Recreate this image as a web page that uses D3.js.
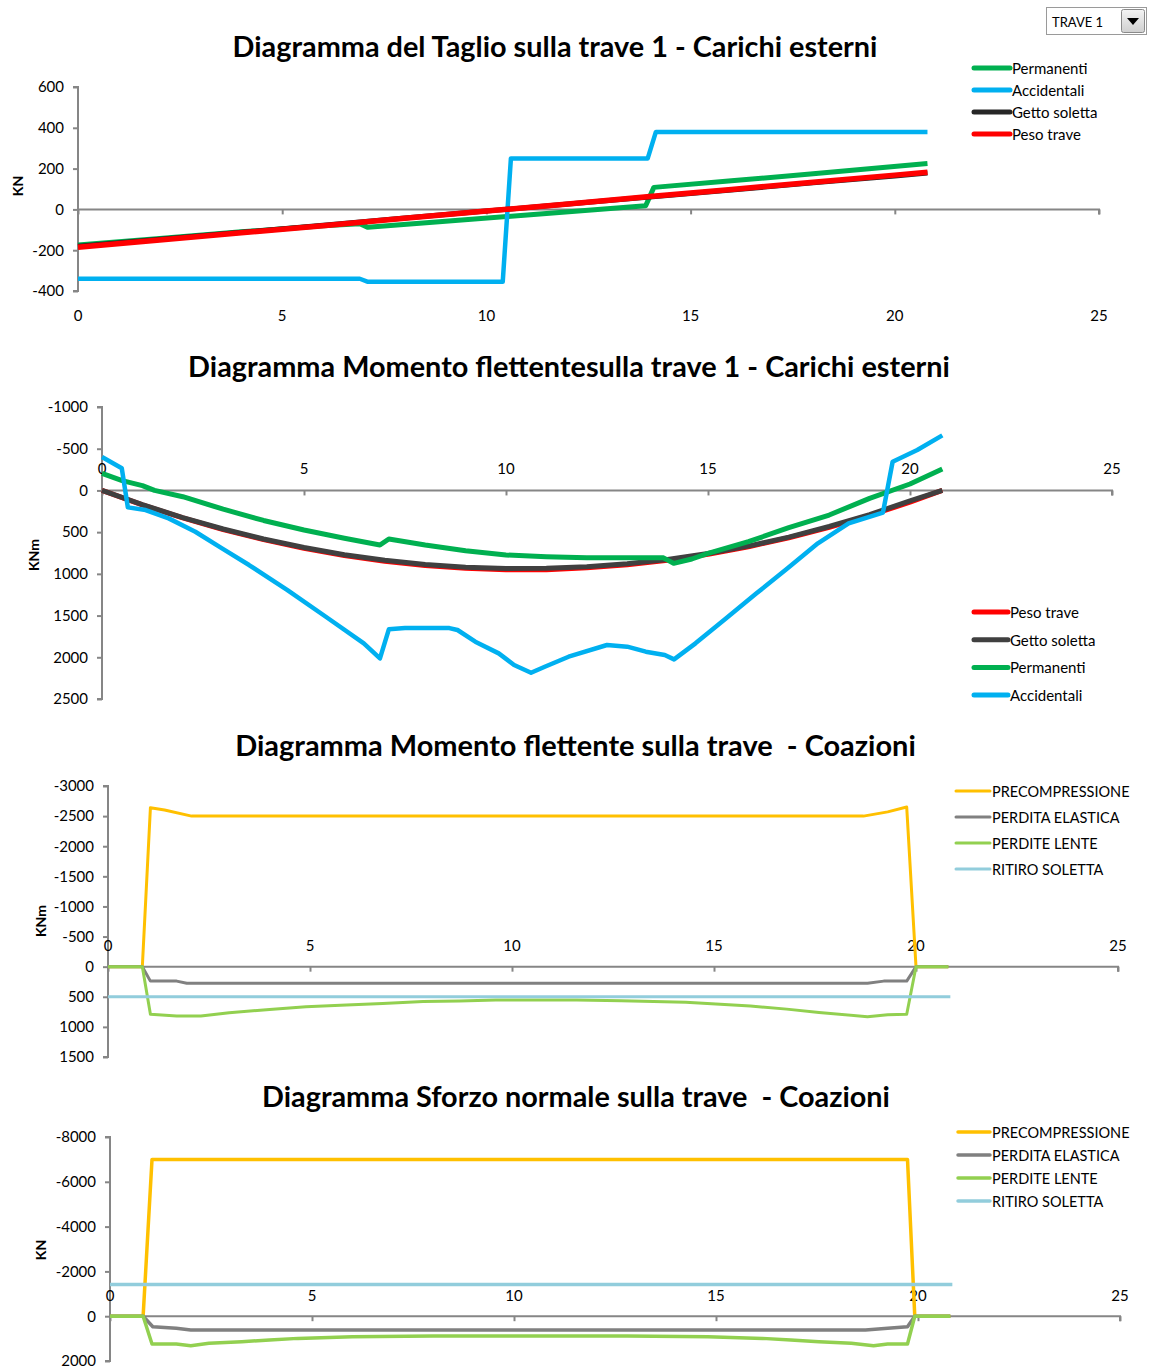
<!DOCTYPE html>
<html>
<head>
<meta charset="utf-8">
<title>Diagrammi trave 1</title>
<script src="https://d3js.org/d3.v7.min.js"></script>
<style>
    body { margin: 0; background: #ffffff; }
    svg { display: block; font-family: Lato, "Open Sans", sans-serif; }
    text { white-space: pre; }
</style>
</head>
<body>
<div id="chart"></div>
<script>

// ---- Data: taglio (shear) - carichi esterni ----
var taglioPermX = [0, 2, 4, 6, 6.9, 7.1, 9, 11, 13.9, 14.1, 16, 18, 20.8];
var taglioPermY = [-175, -142, -110, -80, -70, -88, -58, -27, 18, 108, 140, 175, 225];
var taglioAccX = [0, 6.9, 7.1, 10.4, 10.6, 13.95, 14.15, 20.8];
var taglioAccY = [-340, -340, -355, -355, 250, 250, 380, 380];
var taglioGettoX = [0, 2, 4, 6, 8, 10, 12, 14, 16, 18, 20, 20.8];
var taglioGettoY = [-180, -146, -112, -78, -42, -8, 26, 61, 95, 130, 164, 178];
var taglioPesoX = [0, 2, 4, 6, 8, 10, 12, 14, 16, 18, 20, 20.8];
var taglioPesoY = [-185, -150, -115, -80, -43, -8, 27, 63, 98, 133, 168, 182];

// ---- Data: momento flettente - carichi esterni ----
var momX = [0, 1, 2, 3, 4, 5, 6, 7, 8, 9, 10, 11, 12, 13, 14, 15, 16, 17, 18, 19, 20, 20.8];
var momPesoY = [0, 174, 330, 469, 590, 694, 780, 848, 899, 933, 952, 950, 927, 891, 836, 764, 675, 567, 443, 300, 141, 0];
var momGettoY = [0, 170, 325, 462, 582, 684, 770, 838, 888, 920, 936, 934, 915, 880, 827, 755, 667, 560, 432, 290, 125, 0];
var momPermX = [0, 0.5, 1, 1.3, 2, 3, 4, 5, 6, 6.88, 7.1, 8, 9, 10, 11, 12, 13, 13.9, 14.15, 14.6, 15, 16, 17, 18, 19, 20, 20.8];
var momPermY = [-205, -117, -57, 0, 75, 225, 360, 475, 574, 654, 582, 654, 723, 774, 795, 806, 808, 808, 874, 822, 754, 614, 447, 295, 95, -77, -256];
var momAccX = [0, 0.49, 0.64, 1.08, 1.65, 2.31, 2.97, 3.64, 4.59, 5.54, 6.48, 6.88, 7.1, 7.5, 8.6, 8.8, 9.24, 9.82, 10.2, 10.62, 10.96, 11.55, 12.5, 13.0, 13.46, 13.93, 14.16, 14.69, 15.45, 16.2, 16.97, 17.72, 18.48, 19.33, 19.57, 20.18, 20.8];
var momAccY = [-400, -265, 203, 235, 335, 495, 694, 894, 1194, 1514, 1833, 2013, 1665, 1650, 1650, 1673, 1813, 1953, 2093, 2185, 2113, 1993, 1853, 1873, 1933, 1973, 2025, 1833, 1533, 1233, 934, 634, 395, 267, -344, -484, -660];

// ---- Data: momento flettente - coazioni ----
var coazMPrecX = [0, 0.85, 1.05, 1.4, 2.07, 18.7, 19.3, 19.77, 20.0, 20.8];
var coazMPrecY = [0, 0, -2640, -2600, -2500, -2500, -2570, -2650, 0, 0];
var coazMElasX = [0, 0.85, 1.05, 1.7, 1.95, 18.8, 19.2, 19.77, 20.0, 20.8];
var coazMElasY = [0, 0, 240, 240, 275, 275, 240, 240, 0, 0];
var coazMLenteX = [0, 0.85, 1.05, 1.7, 2.3, 3.0, 4.0, 4.9, 5.9, 6.8, 7.8, 8.7, 9.6, 10.6, 11.6, 12.7, 14.3, 15.9, 16.8, 17.6, 18.8, 19.3, 19.77, 20.0, 20.8];
var coazMLenteY = [0, 0, 790, 820, 820, 765, 710, 665, 635, 610, 580, 570, 555, 553, 553, 565, 590, 655, 705, 760, 830, 800, 790, 0, 0];
var coazMRitiroX = [0, 20.85];
var coazMRitiroY = [500, 500];

// ---- Data: sforzo normale - coazioni ----
var coazNPrecX = [0, 0.82, 1.04, 19.74, 19.92, 20.8];
var coazNPrecY = [0, 0, -7000, -7000, 0, 0];
var coazNElasX = [0, 0.82, 1.06, 1.64, 2.0, 18.7, 19.25, 19.74, 19.92, 20.8];
var coazNElasY = [0, 0, 470, 540, 615, 615, 540, 470, 0, 0];
var coazNLenteX = [0, 0.82, 1.04, 1.64, 2.0, 2.45, 3.26, 3.95, 4.65, 6.0, 8.0, 10.4, 12.8, 14.8, 16.15, 16.85, 17.55, 18.35, 18.9, 19.25, 19.74, 19.92, 20.8];
var coazNLenteY = [0, 0, 1240, 1240, 1315, 1210, 1140, 1060, 990, 915, 885, 885, 885, 915, 990, 1060, 1140, 1210, 1315, 1240, 1240, 0, 0];
var coazNRitiroX = [0, 20.85];
var coazNRitiroY = [-1420, -1420];

// tick values
var xTicks = [0, 5, 10, 15, 20, 25];
var taglioTicks = [-400, -200, 0, 200, 400, 600];
var momTicks = [-1000, -500, 0, 500, 1000, 1500, 2000, 2500];
var coazMTicks = [-3000, -2500, -2000, -1500, -1000, -500, 0, 500, 1000, 1500];
var coazNTicks = [-8000, -6000, -4000, -2000, 0, 2000];

var svg = d3.select('#chart').append('svg')
    .attr('width', 1150)
    .attr('height', 1369);

svg.append('rect').attr('width', 1150).attr('height', 1369).attr('fill', '#ffffff');

// zip two arrays into points
function pts(xs, ys) {
    var out = [];
    for (var i = 0; i < xs.length; i++) {
        out.push([xs[i], ys[i]]);
    }
    return out;
}

// shrink/grow a text so it spans the given width
function fitText(sel, width) {
    var size = parseFloat(sel.attr('font-size'));
    var len = sel.node().getComputedTextLength();
    sel.attr('font-size', size * width / len);
}

function drawChart(c) {
    var g = svg.append('g');
    var x = d3.scaleLinear().domain([0, 25]).range([c.x0, c.x1]);
    var y = d3.scaleLinear().domain(c.yDomain).range([c.y0, c.y1]);

    // title
    var t = g.append('text')
        .attr('x', c.titleX)
        .attr('y', c.titleY)
        .attr('text-anchor', 'middle')
        .attr('font-weight', 'bold')
        .attr('font-size', 26)
        .attr('fill', '#000')
        .text(c.title);
    fitText(t, c.titleW);

    // y axis (plain hyphen for negatives, like the spreadsheet)
    var yAxis = d3.axisLeft(y).tickValues(c.yTicks).tickSize(5).tickPadding(9)
        .tickFormat(function(d) { return String(d); });
    var ya = g.append('g').attr('transform', 'translate(' + c.x0 + ',0)').call(yAxis);
    ya.select('.domain').attr('stroke', '#868686').attr('stroke-width', 2)
        .attr('d', 'M-5,' + c.y0 + 'H0V' + c.y1 + 'H-5');
    ya.selectAll('.tick line').attr('stroke', '#868686').attr('stroke-width', 2);
    ya.selectAll('.tick text').attr('font-size', 15).attr('fill', '#000')
        .attr('font-family', 'Lato, sans-serif');

    // x axis crossing at zero
    var xAxis = d3.axisBottom(x).tickValues(xTicks).tickSize(5).tickFormat('');
    var xa = g.append('g').attr('transform', 'translate(0,' + y(0) + ')').call(xAxis);
    xa.select('.domain').attr('stroke', '#868686').attr('stroke-width', 2)
        .attr('d', 'M' + c.x0 + ',0H' + c.x1 + 'V5');
    xa.selectAll('.tick line').attr('stroke', '#868686').attr('stroke-width', 2);

    // x tick labels
    g.selectAll('.xlab').data(xTicks).enter().append('text')
        .attr('x', function(d) { return x(d); })
        .attr('y', c.xLabY)
        .attr('text-anchor', 'middle')
        .attr('dominant-baseline', 'central')
        .attr('font-size', 15)
        .attr('fill', '#000')
        .text(function(d) { return d; });

    // axis unit label
    g.append('text')
        .attr('transform', 'translate(' + c.unitX + ',' + c.unitY + ') rotate(-90)')
        .attr('text-anchor', 'middle')
        .attr('dominant-baseline', 'central')
        .attr('font-weight', 'bold')
        .attr('font-size', 14)
        .text(c.unit);

    // series
    var line = d3.line().x(function(d) { return x(d[0]); }).y(function(d) { return y(d[1]); });
    c.series.forEach(function(s) {
        g.append('path')
            .datum(pts(s.xs, s.ys))
            .attr('fill', 'none')
            .attr('stroke', s.color)
            .attr('stroke-width', s.width)
            .attr('stroke-linejoin', 'round')
            .attr('d', line);
    });

    // legend
    c.series.forEach(function(s, i) {
        var ly = c.legY + i * c.legStep;
        g.append('line')
            .attr('x1', c.legX).attr('x2', c.legX + c.legLen)
            .attr('y1', ly).attr('y2', ly)
            .attr('stroke', s.color)
            .attr('stroke-width', c.legWidth)
            .attr('stroke-linecap', 'round');
        g.append('text')
            .attr('x', c.legX + c.legLen + 2)
            .attr('y', ly)
            .attr('dominant-baseline', 'central')
            .attr('font-size', c.legFont)
            .attr('fill', '#000')
            .text(s.name);
    });
}

var green = '#00B050', blue = '#00B0F0', red = '#FF0000';
var yellow = '#FFC000', grey = '#808080', lgreen = '#92D050', lblue = '#92CDDC';

drawChart({
    title: 'Diagramma del Taglio sulla trave 1 - Carichi esterni',
    titleX: 555, titleY: 57, titleW: 645,
    x0: 78, x1: 1099, y0: 291, y1: 87,
    yDomain: [-400, 600], yTicks: taglioTicks, xLabY: 315,
    unit: 'KN', unitX: 17, unitY: 186,
    legX: 974, legY: 68, legStep: 22, legLen: 36, legWidth: 5, legFont: 15,
    series: [
        { name: 'Permanenti', xs: taglioPermX, ys: taglioPermY, color: green, width: 5 },
        { name: 'Accidentali', xs: taglioAccX, ys: taglioAccY, color: blue, width: 4.5 },
        { name: 'Getto soletta', xs: taglioGettoX, ys: taglioGettoY, color: '#262626', width: 5 },
        { name: 'Peso trave', xs: taglioPesoX, ys: taglioPesoY, color: red, width: 5.5 }
    ]
});

drawChart({
    title: 'Diagramma Momento flettentesulla trave 1 - Carichi esterni',
    titleX: 569, titleY: 377, titleW: 762,
    x0: 102, x1: 1112, y0: 407, y1: 699,
    yDomain: [-1000, 2500], yTicks: momTicks, xLabY: 468,
    unit: 'KNm', unitX: 33, unitY: 555,
    legX: 974, legY: 612, legStep: 27.7, legLen: 34, legWidth: 5, legFont: 15,
    series: [
        { name: 'Peso trave', xs: momX, ys: momPesoY, color: red, width: 5 },
        { name: 'Getto soletta', xs: momX, ys: momGettoY, color: '#404040', width: 5 },
        { name: 'Permanenti', xs: momPermX, ys: momPermY, color: green, width: 5 },
        { name: 'Accidentali', xs: momAccX, ys: momAccY, color: blue, width: 4.5 }
    ]
});

drawChart({
    title: 'Diagramma Momento flettente sulla trave  - Coazioni',
    titleX: 575.5, titleY: 756, titleW: 681,
    x0: 108, x1: 1118, y0: 786, y1: 1057,
    yDomain: [-3000, 1500], yTicks: coazMTicks, xLabY: 945,
    unit: 'KNm', unitX: 40, unitY: 921,
    legX: 956, legY: 791, legStep: 26, legLen: 34, legWidth: 3, legFont: 14.5,
    series: [
        { name: 'PRECOMPRESSIONE', xs: coazMPrecX, ys: coazMPrecY, color: yellow, width: 3 },
        { name: 'PERDITA ELASTICA', xs: coazMElasX, ys: coazMElasY, color: grey, width: 3 },
        { name: 'PERDITE LENTE', xs: coazMLenteX, ys: coazMLenteY, color: lgreen, width: 3 },
        { name: 'RITIRO SOLETTA', xs: coazMRitiroX, ys: coazMRitiroY, color: lblue, width: 3 }
    ]
});

drawChart({
    title: 'Diagramma Sforzo normale sulla trave  - Coazioni',
    titleX: 576, titleY: 1107, titleW: 628,
    x0: 110, x1: 1120, y0: 1137, y1: 1361,
    yDomain: [-8000, 2000], yTicks: coazNTicks, xLabY: 1295,
    unit: 'KN', unitX: 40, unitY: 1250,
    legX: 958, legY: 1132, legStep: 23, legLen: 32, legWidth: 3.5, legFont: 14.5,
    series: [
        { name: 'PRECOMPRESSIONE', xs: coazNPrecX, ys: coazNPrecY, color: yellow, width: 3.5 },
        { name: 'PERDITA ELASTICA', xs: coazNElasX, ys: coazNElasY, color: grey, width: 3.5 },
        { name: 'PERDITE LENTE', xs: coazNLenteX, ys: coazNLenteY, color: lgreen, width: 3.5 },
        { name: 'RITIRO SOLETTA', xs: coazNRitiroX, ys: coazNRitiroY, color: lblue, width: 3.5 }
    ]
});

// Dropdown "TRAVE 1" in the top right corner
var dd = svg.append('g');
dd.append('rect').attr('x', 1046.5).attr('y', 7.5).attr('width', 100).attr('height', 27)
    .attr('fill', '#fff').attr('stroke', '#9a9a9a');
dd.append('text').attr('x', 1052).attr('y', 22).attr('dominant-baseline', 'central')
    .attr('font-size', 13).text('TRAVE 1');
var grad = svg.append('defs').append('linearGradient').attr('id', 'btn')
    .attr('x1', 0).attr('y1', 0).attr('x2', 0).attr('y2', 1);
grad.append('stop').attr('offset', '0%').attr('stop-color', '#f4f4f4');
grad.append('stop').attr('offset', '100%').attr('stop-color', '#cfcfcf');
dd.append('rect').attr('x', 1121.5).attr('y', 9.5).attr('width', 23).attr('height', 23)
    .attr('fill', 'url(#btn)').attr('stroke', '#8a8a8a').attr('rx', 2);
dd.append('path').attr('d', 'M1127,18 L1139,18 L1133,25 Z').attr('fill', '#000');

</script>
</body>
</html>
